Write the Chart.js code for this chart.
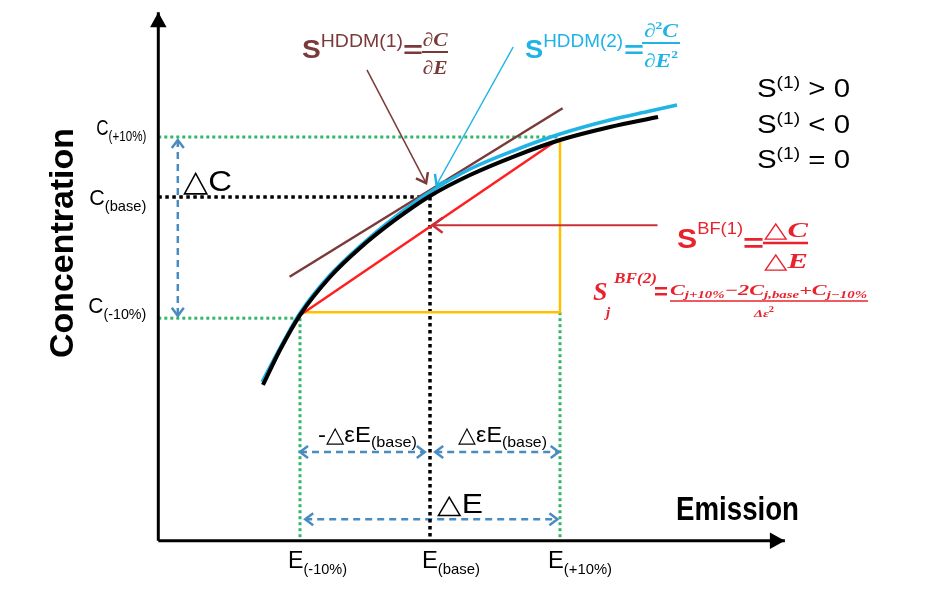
<!DOCTYPE html>
<html>
<head>
<meta charset="utf-8">
<script src="https://cdn.jsdelivr.net/npm/chart.js@4.4.1/dist/chart.umd.min.js"></script>
<style>
html, body { margin: 0; padding: 0; background: #fff; }
#wrap { width: 931px; height: 589px; position: relative; }
</style>
</head>
<body>
<div id="wrap"><canvas id="chart"></canvas></div>
<script>
// emission levels (-10%, base, +10%) and the concentrations they give
const eLevels = [90, 100, 110];
const cLevels = [79.8, 100, 110];
const eTickLabels = [['E', '(-10%)'], ['E', '(base)'], ['E', '(+10%)']];
const cTickLabels = [['C', '(-10%)'], ['C', '(base)'], ['C', '(+10%)']];

// axes: origin and arrow tip
const axisE = [79.1, 127.3];
const axisC = [42.7, 130.8];

// response curves
const modelE = [87.15, 88.46, 90.0, 92.31, 94.62, 97.31, 100.0, 103.08, 106.54, 110.0, 113.85, 117.54];
const modelC = [68.67, 74.5, 80.33, 86.67, 91.5, 96.17, 100.17, 103.67, 106.83, 109.5, 111.67, 113.33];
const hddm2E = [87.08, 88.46, 90.0, 92.31, 94.62, 97.31, 100.0, 103.08, 106.54, 110.0, 113.85, 116.92, 119.0];
const hddm2C = [69.17, 74.83, 80.67, 87.0, 91.83, 96.67, 100.83, 104.67, 107.83, 110.5, 112.83, 114.33, 115.33];

// first order tangent (HDDM) and brute force secant
const tangentE = [89.2, 110.2];
const tangentC = [86.7, 114.8];
const secantE = [90, 109.8];
const secantC = [80.3, 109.5];
const stepE = [90.4, 110, 110];
const stepC = [80.8, 80.8, 109.5];

// dimension arrows
const deltaCE = 80.6;
const deltaCC = [109.5, 80.2];
const halfStepC = 57.5;
const halfStepLeft = [90, 99.6];
const halfStepRight = [100.4, 109.9];
const fullStepC = 46.3;
const fullStepE = [90.4, 109.8];

// pointer arrows
const ptrHddm1E = [95.15, 99.7];
const ptrHddm1C = [121.2, 102.3];
const ptrHddm2E = [106.4, 100.5];
const ptrHddm2C = [125, 102];
const ptrBf1E = [117.5, 100.2];
const ptrBf1C = [95.3, 95.3];

const SANS = '"Liberation Sans", Arial, sans-serif';
const SERIF = '"Liberation Serif", "DejaVu Serif", serif';
const GREEN = '#35b56a';
const BLUE = '#4a8cc0';
const BROWN = '#7b3a3a';
const CYAN = '#1fb3e6';
const RED = '#ff1f1f';
const TXTRED = '#e8232e';

function line(es, cs, color, width, extra) {
    return Object.assign({
        data: es.map((e, i) => ({ x: e, y: cs[i] })),
        borderColor: color,
        borderWidth: width,
        showLine: true,
        pointRadius: 0,
        fill: false,
        tension: 0
    }, extra || {});
}
function dotted(es, cs, color) {
    return line(es, cs, color, 3, { borderDash: [3, 3] });
}
function dashed(es, cs) {
    return line(es, cs, BLUE, 2.5, { borderDash: [7, 5], heads: { start: 'open', end: 'open' }, headSize: 8 });
}

// first dataset is drawn on top
const datasets = [
    line([axisE[0], axisE[0]], [axisC[0], axisC[1]], '#000', 3, { heads: { end: 'fill' }, headSize: 15 }),
    line([axisE[0], axisE[1]], [axisC[0], axisC[0]], '#000', 3, { heads: { end: 'fill' }, headSize: 15 }),
    line(modelE, modelC, '#000', 4, { cubicInterpolationMode: 'monotone' }),
    line(hddm2E, hddm2C, CYAN, 3.5, { cubicInterpolationMode: 'monotone' }),
    line(secantE, secantC, RED, 2.5),
    line(ptrHddm1E, ptrHddm1C, BROWN, 1.5, { heads: { end: 'open' }, headSize: 9 }),
    line(ptrHddm2E, ptrHddm2C, CYAN, 1.5, { heads: { end: 'open' }, headSize: 9 }),
    line(ptrBf1E, ptrBf1C, '#c9303a', 2, { heads: { end: 'open' }, headSize: 10 }),
    line(tangentE, tangentC, BROWN, 2.5),
    line(stepE, stepC, '#ffc000', 2.5),
    dotted([axisE[0], secantE[1]], [cLevels[2], cLevels[2]], GREEN),
    dotted([axisE[0], eLevels[0]], [cLevels[0], cLevels[0]], GREEN),
    dotted([eLevels[0], eLevels[0]], [cLevels[0], axisC[0]], GREEN),
    dotted([eLevels[2], eLevels[2]], [stepC[0], axisC[0]], GREEN),
    line([axisE[0], eLevels[1]], [cLevels[1], cLevels[1]], '#000', 3.5, { borderDash: [3.5, 3.5] }),
    line([eLevels[1], eLevels[1]], [cLevels[1], axisC[0]], '#000', 3.5, { borderDash: [3.5, 3.5] }),
    dashed([deltaCE, deltaCE], deltaCC),
    dashed(halfStepLeft, [halfStepC, halfStepC]),
    dashed(halfStepRight, [halfStepC, halfStepC]),
    dashed(fullStepE, [fullStepC, fullStepC])
];

function head(ctx, from, to, style, size, color, width) {
    const a = Math.atan2(to.y - from.y, to.x - from.x);
    const w = style === 'fill' ? size * 0.55 : size * 0.75;
    const p1 = { x: to.x - size * Math.cos(a) + w * Math.sin(a), y: to.y - size * Math.sin(a) - w * Math.cos(a) };
    const p2 = { x: to.x - size * Math.cos(a) - w * Math.sin(a), y: to.y - size * Math.sin(a) + w * Math.cos(a) };
    ctx.save();
    ctx.setLineDash([]);
    ctx.strokeStyle = color;
    ctx.fillStyle = color;
    ctx.lineWidth = width;
    ctx.lineJoin = 'miter';
    ctx.beginPath();
    ctx.moveTo(p1.x, p1.y);
    ctx.lineTo(to.x, to.y);
    ctx.lineTo(p2.x, p2.y);
    if (style === 'fill') { ctx.closePath(); ctx.fill(); } else { ctx.stroke(); }
    ctx.restore();
}

// draws runs of text [text, font, dy] side by side, optionally squeezed to a width
function rich(ctx, segs, x, y, opt) {
    opt = opt || {};
    let w = 0;
    segs.forEach(s => { ctx.font = s[1]; w += ctx.measureText(s[0]).width; });
    const sx = opt.w ? opt.w / w : 1;
    const tw = w * sx;
    const ox = opt.align === 'right' ? -tw : opt.align === 'center' ? -tw / 2 : 0;
    ctx.save();
    ctx.translate(x, y);
    if (opt.rot) ctx.rotate(opt.rot);
    ctx.translate(ox, 0);
    ctx.scale(sx, 1);
    ctx.fillStyle = opt.color || '#000';
    ctx.textAlign = 'left';
    ctx.textBaseline = 'alphabetic';
    let cx = 0;
    segs.forEach(s => {
        ctx.font = s[1];
        ctx.fillText(s[0], cx, s[2] || 0);
        cx += ctx.measureText(s[0]).width;
    });
    ctx.restore();
}
function bar(ctx, x1, x2, y, color, lw) {
    ctx.save();
    ctx.strokeStyle = color;
    ctx.lineWidth = lw;
    ctx.beginPath();
    ctx.moveTo(x1, y);
    ctx.lineTo(x2, y);
    ctx.stroke();
    ctx.restore();
}

const sketchPlugin = {
    id: 'sketch',
    beforeDraw(chart) {
        const ctx = chart.ctx;
        ctx.save();
        ctx.fillStyle = '#fff';
        ctx.fillRect(0, 0, chart.width, chart.height);
        ctx.restore();
    },
    afterDatasetsDraw(chart) {
        const ctx = chart.ctx;
        const xs = chart.scales.x, ys = chart.scales.y;
        const P = p => ({ x: xs.getPixelForValue(p.x), y: ys.getPixelForValue(p.y) });

        chart.data.datasets.forEach(ds => {
            if (!ds.heads) return;
            const d = ds.data;
            if (ds.heads.end) head(ctx, P(d[d.length - 2]), P(d[d.length - 1]), ds.heads.end, ds.headSize, ds.borderColor, 2.5);
            if (ds.heads.start) head(ctx, P(d[1]), P(d[0]), ds.heads.start, ds.headSize, ds.borderColor, 2.5);
        });

        // axis titles
        const axisX = xs.getPixelForValue(axisE[0]);
        rich(ctx, [['Concentration', 'bold 34px ' + SANS]], 73, 243, { align: 'center', w: 230, rot: -Math.PI / 2 });
        rich(ctx, [['Emission', 'bold 34px ' + SANS]], 676, 520, { w: 123 });

        // tick labels
        const eDx = [-12, -8, -12];
        const eW = [59, 58, 64];
        eLevels.forEach((e, i) => {
            rich(ctx, [[eTickLabels[i][0], '24px ' + SANS], [eTickLabels[i][1], '15px ' + SANS, 6]],
                xs.getPixelForValue(e) + eDx[i], 568, { w: eW[i] });
        });
        const cDy = [-5, 8, -2];
        const cW = [58, 57, 50];
        cLevels.forEach((c, i) => {
            rich(ctx, [[cTickLabels[i][0], '22px ' + SANS], [cTickLabels[i][1], '15px ' + SANS, 6]],
                axisX - 12, ys.getPixelForValue(c) + cDy[i], { align: 'right', w: cW[i] });
        });

        // dimension labels
        rich(ctx, [['\u25B3C', '30px ' + SANS]], 183, 191, { w: 49 });
        rich(ctx, [['-\u25B3\u03B5E', '22px ' + SANS], ['(base)', '15px ' + SANS, 5]], 318, 442, { w: 99 });
        rich(ctx, [['\u25B3\u03B5E', '22px ' + SANS], ['(base)', '15px ' + SANS, 5]], 458, 442, { w: 89 });
        rich(ctx, [['\u25B3E', '27px ' + SANS]], 437, 513, { w: 46 });

        // HDDM first order
        rich(ctx, [['S', 'bold 26px ' + SANS], ['HDDM(1)', '18px ' + SANS, -11]], 302, 58, { color: BROWN, w: 101 });
        rich(ctx, [['=', 'bold 24px ' + SANS]], 403, 58, { color: BROWN, w: 20 });
        rich(ctx, [['\u2202C', 'bold italic 19px ' + SERIF]], 435, 46, { color: BROWN, align: 'center', w: 25 });
        bar(ctx, 422, 448, 52, BROWN, 2);
        rich(ctx, [['\u2202E', 'bold italic 19px ' + SERIF]], 435, 74, { color: BROWN, align: 'center', w: 25 });

        // HDDM second order
        rich(ctx, [['S', 'bold 26px ' + SANS], ['HDDM(2)', '18px ' + SANS, -11]], 525, 58, { color: CYAN, w: 98 });
        rich(ctx, [['=', 'bold 24px ' + SANS]], 624, 58, { color: CYAN, w: 20 });
        rich(ctx, [['\u2202', 'bold italic 19px ' + SERIF], ['2', 'bold 11px ' + SERIF, -8], ['C', 'bold italic 19px ' + SERIF]], 661, 37, { color: CYAN, align: 'center', w: 34 });
        bar(ctx, 642, 680, 43, CYAN, 2);
        rich(ctx, [['\u2202E', 'bold italic 19px ' + SERIF], ['2', 'bold 11px ' + SERIF, -9]], 661, 67, { color: CYAN, align: 'center', w: 34 });

        // brute force first order
        rich(ctx, [['S', 'bold 28px ' + SANS], ['BF(1)', '17px ' + SANS, -14]], 677, 248, { color: TXTRED, w: 66 });
        rich(ctx, [['=', 'bold 26px ' + SANS]], 743, 252, { color: TXTRED, w: 21 });
        rich(ctx, [['\u25B3', '22px ' + SANS], ['C', 'bold italic 22px ' + SERIF]], 786, 237, { color: TXTRED, align: 'center', w: 44 });
        bar(ctx, 763, 808, 243, TXTRED, 2.5);
        rich(ctx, [['\u25B3', '22px ' + SANS], ['E', 'bold italic 22px ' + SERIF]], 786, 268, { color: TXTRED, align: 'center', w: 44 });

        // brute force second order
        rich(ctx, [['S', 'bold italic 26px ' + SERIF]], 593, 300, { color: TXTRED });
        rich(ctx, [['BF(2)', 'bold italic 15px ' + SERIF]], 614, 283, { color: TXTRED, w: 43 });
        rich(ctx, [['j', 'bold italic 15px ' + SERIF]], 606, 317, { color: TXTRED });
        rich(ctx, [['=', 'bold 22px ' + SANS]], 654, 299, { color: TXTRED, w: 14 });
        const nb = 'bold italic 15px ' + SERIF, ns = 'bold italic 10px ' + SERIF;
        rich(ctx, [['C', nb], ['j+10%', ns, 3], ['\u22122C', nb], ['j,base', ns, 3], ['+C', nb], ['j\u221210%', ns, 3]],
            670, 295, { color: TXTRED, w: 197 });
        bar(ctx, 670, 868, 301, TXTRED, 1.5);
        rich(ctx, [['\u0394\u03B5', 'bold italic 11px ' + SERIF], ['2', 'bold 8px ' + SERIF, -5]], 764, 317, { color: TXTRED, align: 'center', w: 20 });

        // sign legend
        ['>', '<', '='].forEach((op, i) => {
            rich(ctx, [['S', '26px ' + SANS], ['(1)', '17px ' + SANS, -9], [' ' + op + ' 0', '26px ' + SANS]],
                757, [97, 133, 168][i], { w: 93 });
        });
    }
};

new Chart(document.getElementById('chart').getContext('2d'), {
    type: 'scatter',
    data: { datasets: datasets },
    options: {
        animation: false,
        responsive: true,
        maintainAspectRatio: false,
        layout: { padding: 0 },
        events: [],
        plugins: { legend: { display: false }, tooltip: { enabled: false } },
        scales: {
            x: { type: 'linear', min: 66.923, max: 138.538, display: false },
            y: { type: 'linear', min: 34.667, max: 132.833, display: false }
        }
    },
    plugins: [sketchPlugin]
});
</script>
</body>
</html>
